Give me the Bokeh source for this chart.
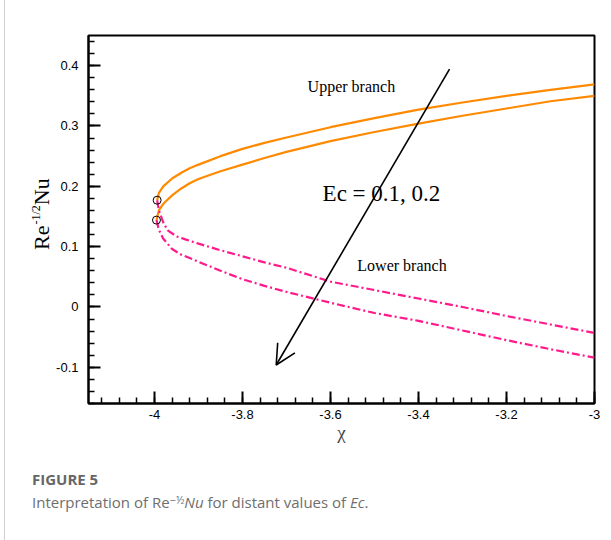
from bokeh.plotting import figure
from bokeh.models import (Label, Arrow, OpenHead, Range1d, FixedTicker,
                          NumeralTickFormatter, Div)
from bokeh.layouts import column, row
from bokeh.embed import file_html
from bokeh.resources import INLINE

# Upper branch (solid) for Ec = 0.1 and Ec = 0.2
chi_up_a = [-3.994, -3.99, -3.98, -3.96, -3.94, -3.92, -3.9, -3.85, -3.8, -3.75,
            -3.7, -3.6, -3.5, -3.4, -3.3, -3.2, -3.1, -3.0]
nu_up_a = [0.177, 0.189, 0.200, 0.213, 0.222, 0.230, 0.236, 0.250, 0.262, 0.272,
           0.281, 0.298, 0.313, 0.327, 0.339, 0.350, 0.360, 0.369]

chi_up_b = [-3.9955, -3.99, -3.98, -3.96, -3.94, -3.92, -3.9, -3.85, -3.8, -3.75,
            -3.7, -3.6, -3.5, -3.4, -3.3, -3.2, -3.1, -3.0]
nu_up_b = [0.144, 0.160, 0.171, 0.185, 0.196, 0.205, 0.212, 0.225, 0.236, 0.247,
           0.257, 0.275, 0.290, 0.304, 0.317, 0.329, 0.341, 0.350]

# Lower branch (dash-dot)
chi_lo_a = [-3.994, -3.99, -3.98, -3.97, -3.95, -3.93, -3.9, -3.85, -3.8, -3.75,
            -3.7, -3.6, -3.5, -3.4, -3.3, -3.2, -3.1, -3.0]
nu_lo_a = [0.177, 0.160, 0.140, 0.127, 0.117, 0.112, 0.105, 0.094, 0.084, 0.074,
           0.065, 0.042, 0.028, 0.014, 0.000, -0.015, -0.029, -0.043]

chi_lo_b = [-3.9955, -3.99, -3.98, -3.96, -3.94, -3.9, -3.85, -3.8, -3.75,
            -3.7, -3.6, -3.5, -3.4, -3.3, -3.2, -3.1, -3.0]
nu_lo_b = [0.144, 0.128, 0.113, 0.096, 0.087, 0.075, 0.060, 0.046, 0.035,
           0.025, 0.007, -0.010, -0.023, -0.039, -0.055, -0.070, -0.084]

# Turning points
chi_turn = [-3.994, -3.9955]
nu_turn = [0.177, 0.144]

x_ticks = [-4.0, -3.8, -3.6, -3.4, -3.2, -3.0]
y_ticks = [-0.1, 0.0, 0.1, 0.2, 0.3, 0.4]

ORANGE = "#ff8a00"
PINK = "#ff1a8c"
SERIF = "Liberation Serif"
RULE = "#d0d0d0"

p = figure(width=559, height=460, output_backend="svg", toolbar_location=None,
           x_range=Range1d(-4.15, -3.0), y_range=Range1d(-0.16, 0.45),
           min_border_left=36, min_border_right=17, min_border_top=35,
           min_border_bottom=57)
p.grid.visible = False
p.outline_line_color = "black"
p.outline_line_width = 2
p.background_fill_color = "white"
p.border_fill_color = "white"

p.line(chi_up_a, nu_up_a, color=ORANGE, line_width=2.2)
p.line(chi_up_b, nu_up_b, color=ORANGE, line_width=2.2)
p.line(chi_lo_a, nu_lo_a, color=PINK, line_width=2.2, line_dash="8 3 2 3")
p.line(chi_lo_b, nu_lo_b, color=PINK, line_width=2.2, line_dash="8 3 2 3")
p.scatter(chi_turn, nu_turn, marker="circle", size=8, fill_color=None,
          line_color="black", line_width=1)

# Direction of increasing Ec
p.add_layout(Arrow(x_start=-3.3295, y_start=0.3942, x_end=-3.7234, y_end=-0.0962,
                   line_width=1.6, line_color="black",
                   end=OpenHead(size=20, line_width=1.6, line_color="black")))

p.add_layout(Label(x=-3.652, y=0.3516, text="Upper branch", text_font=SERIF,
                   text_font_size="16px", text_color="black"))
p.add_layout(Label(x=-3.618, y=0.1675, text="Ec = 0.1, 0.2", text_font=SERIF,
                   text_font_size="23px", text_color="black"))
p.add_layout(Label(x=-3.539, y=0.0547, text="Lower branch", text_font=SERIF,
                   text_font_size="16px", text_color="black"))

for ax, ticks in ((p.xaxis[0], x_ticks), (p.yaxis[0], y_ticks)):
    ax.ticker = FixedTicker(ticks=ticks)
    ax.formatter = NumeralTickFormatter(format="0.[0]")
    ax.axis_line_width = 2
    ax.major_tick_in = 12
    ax.major_tick_out = 0
    ax.minor_tick_in = 6
    ax.minor_tick_out = 0
    ax.major_tick_line_width = 2
    ax.minor_tick_line_width = 1.5
    ax.major_label_text_font = "Liberation Sans"
    ax.major_label_text_font_size = "13px"
    ax.major_label_text_color = "black"

p.xaxis.ticker.minor_ticks = [-4.12 + 0.04 * i for i in range(29)]
p.yaxis.ticker.minor_ticks = [-0.16 + 0.02 * i for i in range(31)]
p.xaxis.major_label_standoff = 6
p.yaxis.major_label_standoff = 10

p.xaxis.axis_label = "χ"
p.xaxis.axis_label_text_font = SERIF
p.xaxis.axis_label_text_font_style = "normal"
p.xaxis.axis_label_text_font_size = "19px"
p.xaxis.axis_label_standoff = 0

# Rotated y-axis title Re^(-1/2) Nu, with the page rule at the left edge
ylab_html = (
    '<div style="position:relative;width:52px;height:460px;">'
    f'<div style="position:absolute;left:4px;top:0;width:1px;height:460px;background:{RULE};"></div>'
    '<div style="position:absolute;left:29.6px;top:250px;transform:rotate(-90deg);'
    f'transform-origin:0 0;white-space:nowrap;font-family:\'{SERIF}\';font-size:22px;'
    'line-height:1;color:black;">Re<span style="font-size:12px;vertical-align:9px;'
    'margin-left:1px;">-1/2</span>Nu</div>'
    '</div>'
)
ylab = Div(text=ylab_html, width=52, height=460, margin=0)

# Figure caption
cap_html = (
    '<div style="position:relative;width:611px;height:80px;">'
    f'<div style="position:absolute;left:4px;top:0;width:1px;height:80px;background:{RULE};"></div>'
    '<div style="position:absolute;left:32px;top:9px;font-family:\'Open Sans\';font-size:15px;'
    'font-weight:700;color:#666666;white-space:nowrap;line-height:normal;">FIGURE 5</div>'
    '<div style="position:absolute;left:32px;top:32px;font-family:\'Open Sans\';font-size:15px;'
    'color:#6e6e6e;white-space:nowrap;line-height:normal;">Interpretation of Re'
    '<span style="font-size:11px;vertical-align:4px;">−½</span>'
    '<i>Nu</i> for distant values of <i>Ec</i>.</div>'
    '</div>'
)
caption = Div(text=cap_html, width=611, height=80, margin=0)

page = column(row(ylab, p, spacing=0), caption, spacing=0)

open("out.html", "w").write(file_html(page, INLINE))
